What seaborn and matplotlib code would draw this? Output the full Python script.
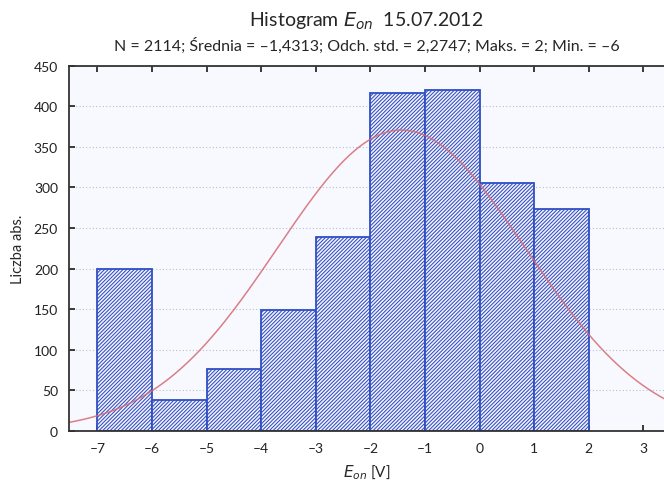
import numpy as np
import pandas as pd
import seaborn as sns
import matplotlib.pyplot as plt
from matplotlib.ticker import FuncFormatter

# histogram values
bin_edges = [-7, -6, -5, -4, -3, -2, -1, 0, 1, 2]
counts = [199, 38, 76, 149, 239, 417, 420, 305, 273]
n_total = 2114
mean_val = -1.4313
std_val = 2.2747

sns.set_theme(style="ticks")
plt.rcParams['font.family'] = ['Lato', 'DejaVu Sans']
plt.rcParams['hatch.linewidth'] = 0.75
plt.rcParams['hatch.color'] = '#2b3370'

df = pd.DataFrame({"x": [a + 0.5 for a in bin_edges[:-1]], "n": counts})

fig = plt.figure(figsize=(6.64, 5.02), dpi=100)
ax = fig.add_axes([0.104, 0.14, 0.896, 0.727])
ax.set_facecolor('#f8f9fe')

sns.histplot(data=df, x="x", weights="n", bins=bin_edges, ax=ax,
             color='#f4f2fb', alpha=1, edgecolor='#2f4fc4', linewidth=1.3)
for p in ax.patches:
    p.set_hatch('/////////')

# fitted normal curve from the stated statistics
xs = np.linspace(-7.6, 3.5, 300)
ys = n_total / (std_val * np.sqrt(2 * np.pi)) * np.exp(-0.5 * ((xs - mean_val) / std_val) ** 2)
sns.lineplot(x=xs, y=ys, ax=ax, color='#d46a70', linewidth=1.1, alpha=0.85)

ax.set_xlim(-7.52, 3.38)
ax.set_ylim(0, 450)
ax.set_xticks(range(-7, 4))
ax.set_yticks(range(0, 451, 50))
dash = FuncFormatter(lambda v, pos: f"{v:g}".replace('-', '\u2013'))
ax.xaxis.set_major_formatter(dash)
ax.yaxis.grid(True, linestyle=(0, (1, 2)), color='#b8c0d8', linewidth=0.8)
ax.set_axisbelow(True)
ax.tick_params(axis='both', direction='in', length=4, labelsize=10, colors='#222222', pad=8)
ax.tick_params(axis='x', top=True)
ax.tick_params(axis='y', right=False)
for s in ['left', 'bottom', 'top']:
    ax.spines[s].set_color('#333333')
    ax.spines[s].set_linewidth(1.3)
ax.spines['right'].set_visible(False)

ax.set_xlabel(r"$\mathit{E}_{\mathit{on}}$ [V]", fontsize=11, labelpad=6)
ax.set_ylabel("Liczba abs.", fontsize=10.5, labelpad=6)

fig.text(0.552, 0.958, r"Histogram $\mathit{E}_{\mathit{on}}$  15.07.2012", ha='center', va='center', fontsize=14)
fig.text(0.552, 0.908, "N = 2114; Średnia = \u20131,4313; Odch. std. = 2,2747; Maks. = 2; Min. = \u20136",
         ha='center', va='center', fontsize=11.5)

fig.savefig("out.png", dpi=100, facecolor='white')
